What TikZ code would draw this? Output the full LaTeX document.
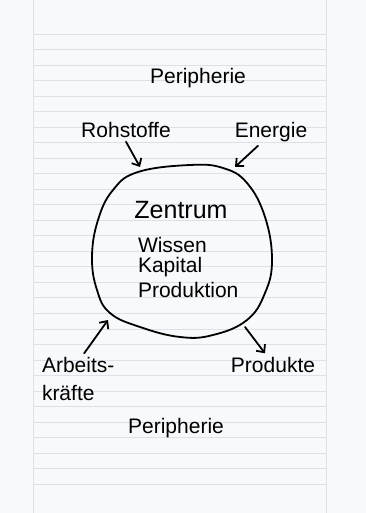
\documentclass[tikz,border=0pt]{standalone}
\usepackage{fontspec}
\setmainfont{Liberation Sans}
\usetikzlibrary{arrows.meta}
\definecolor{papier}{HTML}{F8F9FB}
\definecolor{linienfarbe}{HTML}{DCE1E9}

\begin{document}
\begin{tikzpicture}[x=1pt,y=-1pt,>={Straight Barb[length=6pt,width=11pt]},
	every node/.style={font=\fontsize{21}{28}\selectfont,inner sep=1pt,outer sep=3pt},
	stift/.style={line width=1.8pt,line cap=round,line join=round},
	linie/.style={draw=linienfarbe,line width=0.7pt}]
		\useasboundingbox (0,0) rectangle (366,513);
		% Papier mit Linien
		\fill [papier] (0,0) rectangle (366,513);
		\draw [linie] (33,0) -- (33,513);
		\draw [linie] (326,0) -- (326,513);
		\foreach \i in {0,...,29}
			\draw [linie] (33,34+15.52*\i) -- (326,34+15.52*\i);
		% Zentrum als Blase
		\draw [stift] plot [smooth cycle, tension=0.7] coordinates {(138,172) (190,165) (223,168) (247,183) (265,217) (272,260) (265,293) (247,320) (213,335) (180,337) (140,327) (110,313) (97,290) (92,257) (98,220) (113,190)};
		\coordinate (rohSpitze) at (140,167);
		\coordinate (energieSpitze) at (235,167);
		\coordinate (arbeitSpitze) at (108,320);
		\coordinate (produktStart) at (245,327);
		% Texte
		\node (periOben) at (198,78) {Peripherie};
		\node (roh) at (126,130) {Rohstoffe};
		\node (energie) at (271,132) {Energie};
		\node [font=\fontsize{25}{28}\selectfont] (zentrum) at (181,210) {Zentrum};
		\node [anchor=west] (wissen) at (134,245) {Wissen};
		\node [anchor=west] (kapital) at (134,267) {Kapital};
		\node [anchor=west] (produktion) at (134,290) {Produktion};
		\node [anchor=west, align=left] (arbeit) at (38,379) {Arbeits-\\kräfte};
		\node (produkte) at (273,365) {Produkte};
		\node (periUnten) at (176,428) {Peripherie};
		% Pfeile
		\draw [stift,->] (roh.south) -- (rohSpitze);
		\draw [stift,->] ([xshift=-13pt]energie.south) -- (energieSpitze);
		\draw [stift,->] ([xshift=6pt]arbeit.north) -- (arbeitSpitze);
		\draw [stift,->] (produktStart) -- ([xshift=-8pt]produkte.north);
	\end{tikzpicture}
\end{document}
